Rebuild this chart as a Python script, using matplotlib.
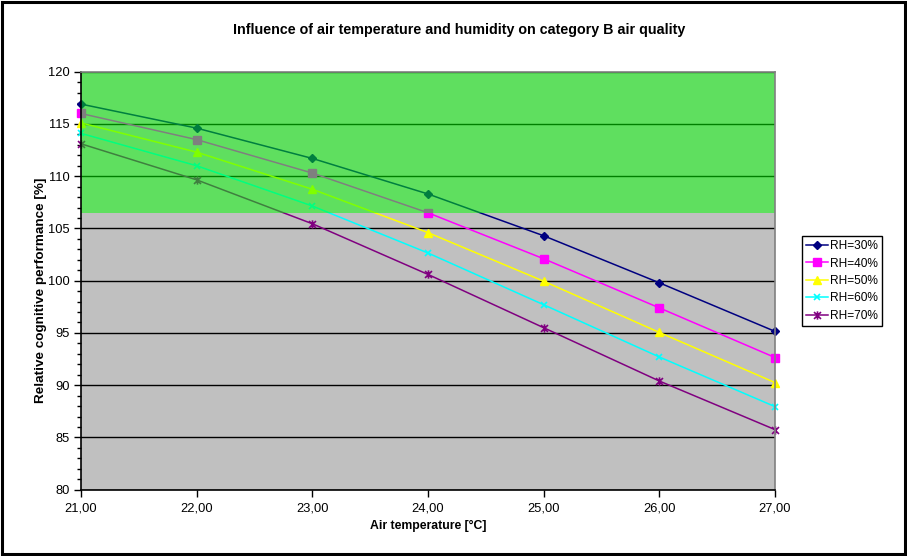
import matplotlib
matplotlib.use("Agg")
import matplotlib.pyplot as plt
from matplotlib.path import Path
from matplotlib.patches import Rectangle
from matplotlib.ticker import MultipleLocator, FuncFormatter

plt.rcParams['font.family'] = ['Liberation Sans', 'DejaVu Sans']

temperatures = [21, 22, 23, 24, 25, 26, 27]
rh30 = [116.9, 114.6, 111.7, 108.3, 104.3, 99.8, 95.15]
rh40 = [116.0, 113.5, 110.3, 106.5, 102.1, 97.4, 92.65]
rh50 = [115.1, 112.3, 108.75, 104.6, 99.95, 95.05, 90.25]
rh60 = [114.1, 111.0, 107.15, 102.65, 97.7, 92.7, 87.95]
rh70 = [113.1, 109.65, 105.45, 100.6, 95.5, 90.4, 85.75]
series_labels = ["RH=30%", "RH=40%", "RH=50%", "RH=60%", "RH=70%"]
green_band = (106.5, 120.0)

# Asterisk marker: an "x" with a vertical bar through it
asterisk = Path(
    [(-1, -1), (1, 1), (-1, 1), (1, -1), (0, -1.2), (0, 1.2)],
    [Path.MOVETO, Path.LINETO, Path.MOVETO, Path.LINETO, Path.MOVETO, Path.LINETO],
)

styles = [
    dict(color="#000080", marker="D", ms=4.5, mfc="#000080", mec="#000080"),
    dict(color="#FF00FF", marker="s", ms=5.5, mfc="#FF00FF", mec="#FF00FF"),
    dict(color="#FFFF00", marker="^", ms=6, mfc="#FFFF00", mec="#FFFF00"),
    dict(color="#00FFFF", marker="x", ms=5, mew=1.2),
    dict(color="#800080", marker=asterisk, ms=6, mew=1.2),
]

fig = plt.figure(figsize=(9.07, 5.56), dpi=100)
ax = fig.add_axes([81 / 907, 1 - 489.7 / 556, (775 - 81) / 907, (489.7 - 71.7) / 556])
ax.set_facecolor("#C0C0C0")

for values, label, st in zip([rh30, rh40, rh50, rh60, rh70], series_labels, styles):
    ax.plot(temperatures, values, lw=1.1, label=label, clip_on=False, zorder=3, **st)

# Translucent green band for the category B target zone, laid over the curves
ax.add_patch(Rectangle((temperatures[0], green_band[0]), temperatures[-1] - temperatures[0],
                       green_band[1] - green_band[0], facecolor=(0, 1, 0, 0.5),
                       edgecolor="none", zorder=4))

ax.set_xlim(21, 27)
ax.set_ylim(80, 120)
ax.set_xticks(temperatures)
ax.xaxis.set_major_formatter(FuncFormatter(lambda v, p: f"{v:.2f}".replace(".", ",")))
ax.yaxis.set_major_locator(MultipleLocator(5))
ax.yaxis.set_minor_locator(MultipleLocator(1))
ax.grid(axis="y", which="major", color="black", lw=1.0, zorder=1)
ax.set_axisbelow(True)
ax.tick_params(axis="both", which="major", direction="out", length=5, width=1,
               labelsize=9.3, colors="black", pad=3)
ax.tick_params(axis="x", which="major", pad=4)
ax.tick_params(axis="y", which="minor", direction="out", length=3, width=1)
ax.tick_params(axis="x", which="minor", bottom=False)

for side in ("left", "bottom"):
    ax.spines[side].set_color("black")
    ax.spines[side].set_linewidth(1.2)
    ax.spines[side].set_zorder(6)
for side in ("top", "right"):
    ax.spines[side].set_color("#808080")
    ax.spines[side].set_linewidth(1.2)
    ax.spines[side].set_zorder(6)

ax.set_xlabel("Air temperature [°C]", fontsize=8.8, fontweight="bold")
ax.xaxis.set_label_coords((428 - 81) / (775 - 81), -(526 - 489.7) / (489.7 - 71.7))
ax.set_ylabel("Relative cognitive performance [%]", fontsize=9.7, fontweight="bold")
ax.yaxis.set_label_coords(-(81 - 41) / (775 - 81), (489.7 - 290) / (489.7 - 71.7))
ax.xaxis.label.set_va("center")
ax.yaxis.label.set_va("center")
fig.text(459 / 907, 1 - 30 / 556, "Influence of air temperature and humidity on category B air quality",
         ha="center", va="center", fontsize=10.3, fontweight="bold")

leg = ax.legend(loc="upper left", bbox_to_anchor=(802 / 907, 1 - 236 / 556),
                bbox_transform=fig.transFigure, fontsize=8.6, frameon=True, fancybox=False,
                edgecolor="black", framealpha=1, borderpad=0.35, labelspacing=0.45,
                handlelength=1.8, handletextpad=0.2, borderaxespad=0)
leg.get_frame().set_linewidth(1.0)

# Outer chart border
fig.patches.append(Rectangle((1.5 / 907, 2 / 556), 903 / 907, 552.5 / 556,
                             transform=fig.transFigure, fill=False, edgecolor="black",
                             lw=2.2, zorder=10))

fig.savefig("out.png", dpi=100)
